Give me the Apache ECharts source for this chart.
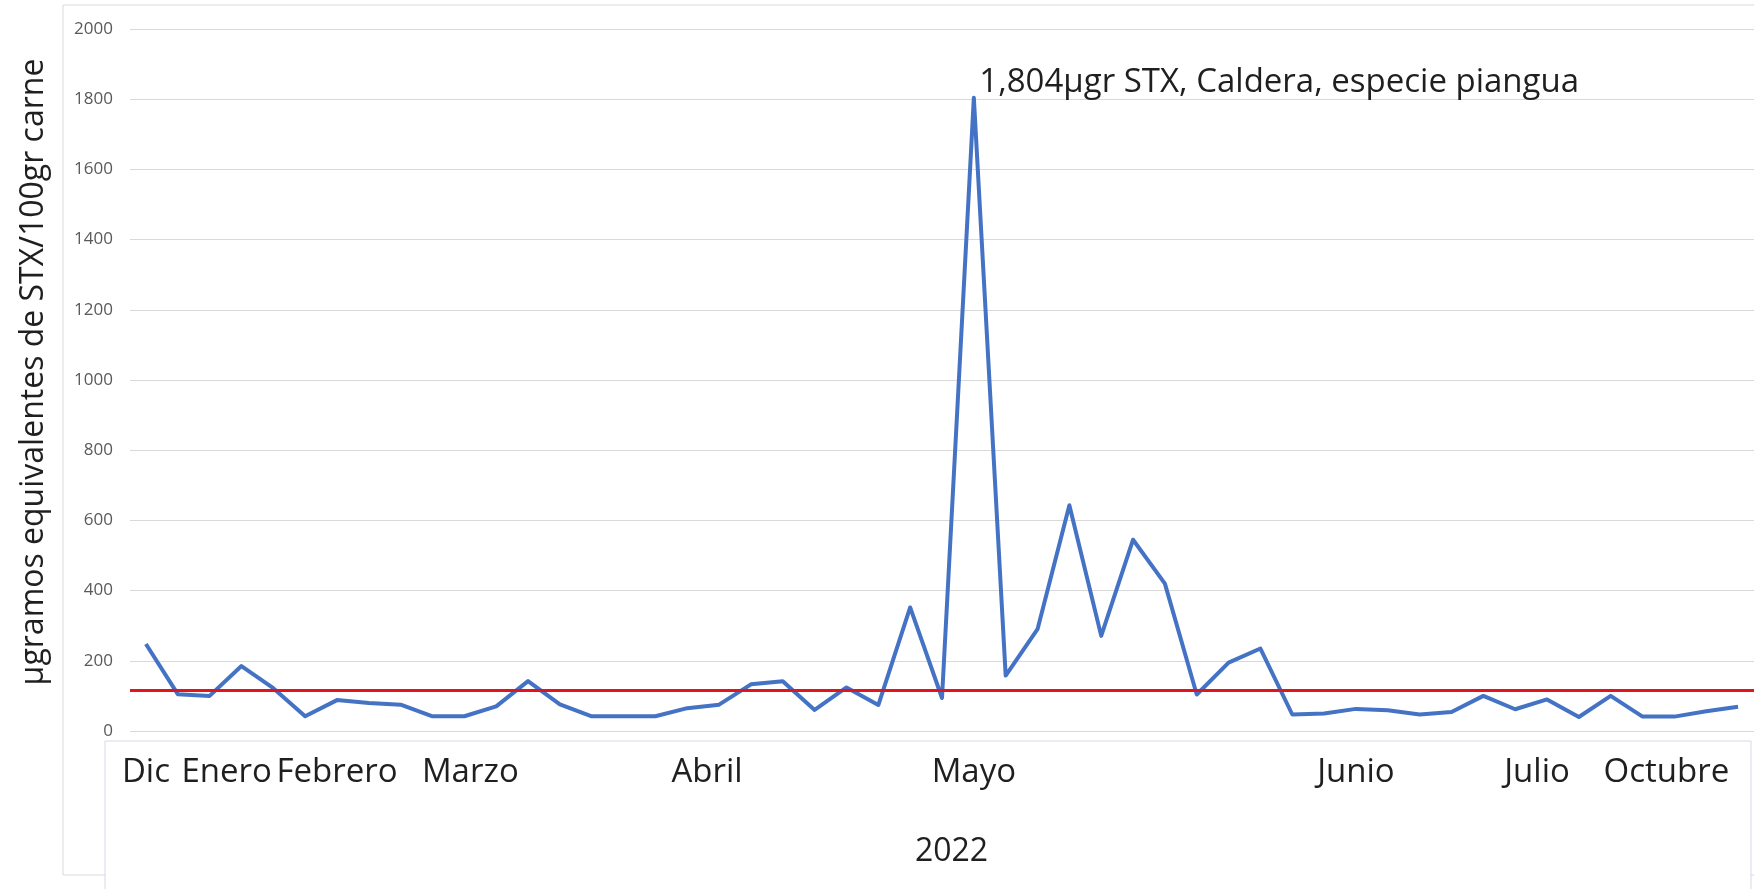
<!DOCTYPE html>
<html>
<head>
<meta charset="utf-8">
<script src="https://cdn.jsdelivr.net/npm/echarts@6/dist/echarts.min.js"></script>
<style>
  html, body { margin: 0; padding: 0; background: #ffffff; }
  #chart { width: 1754px; height: 889px; }
</style>
</head>
<body>
<div id="chart"></div>
<script>
// ---- data ----
const categories = ['Dic', '', 'Enero', '', '', '', 'Febrero', '', '', '', 'Marzo',
  '', '', '', '', '', '', '', 'Abril', '', '', '', '', '', '', '', 'Mayo',
  '', '', '', '', '', '', '', '', '', '', '', 'Junio', '', '', '', '', '', 'Julio',
  '', '', '', 'Octubre', '', ''];
const stxValues = [248, 105, 100, 185, 122, 42, 88, 80, 75, 42, 42, 70, 142, 76, 42, 42, 42,
  65, 75, 133, 142, 60, 124, 74, 352, 94, 1804, 158, 290, 643, 271, 545, 420, 104, 195, 235,
  47, 50, 63, 59, 47, 54, 100, 62, 90, 40, 100, 41, 41, 56, 69];
const thresholdValue = 115;
const yTicks = [0, 200, 400, 600, 800, 1000, 1200, 1400, 1600, 1800, 2000];
const yearLabel = '2022';
const yAxisTitle = 'µgramos equivalentes de STX/100gr carne';
const peakNote = '1,804µgr STX, Caldera, especie piangua';

// ---- layout tweaks (label centring as in the reference text box) ----
const labelShift = { 2: 17, 10: 6, 18: -12, 44: -10, 48: -8 };
const FONT = "'Open Sans', sans-serif";

const xData = categories.map((c, i) => {
  const s = labelShift[i];
  if (!s) return c;
  return { value: c, textStyle: { padding: s > 0 ? [0, 0, 0, 2 * s] : [0, -2 * s, 0, 0] } };
});

const chart = echarts.init(document.getElementById('chart'), null, { renderer: 'canvas' });
chart.setOption({
  backgroundColor: '#ffffff',
  animation: false,
  textStyle: { fontFamily: FONT },
  graphic: [
    { type: 'rect', z: -20, silent: true,
      shape: { x: 63, y: 5, width: 1750, height: 870 },
      style: { fill: 'none', stroke: '#d9d9d9', lineWidth: 1 } },
    { type: 'rect', z: -10, silent: true,
      shape: { x: 105, y: 741, width: 1646, height: 220 },
      style: { fill: '#ffffff', stroke: '#d3d9e2', lineWidth: 1 } }
  ],
  grid: { left: 130, right: -3, top: 29, bottom: 158, containLabel: false },
  xAxis: {
    type: 'category',
    data: xData,
    boundaryGap: true,
    axisLine: { show: false },
    axisTick: { show: false },
    axisLabel: { interval: 0, margin: 25, fontSize: 33, color: '#1f1f1f', fontFamily: FONT },
    name: yearLabel,
    nameLocation: 'middle',
    nameGap: 105,
    nameTextStyle: { fontSize: 32, color: '#1f1f1f', fontFamily: FONT, padding: [0, 0, 0, 19] }
  },
  yAxis: {
    type: 'value',
    min: yTicks[0],
    max: yTicks[yTicks.length - 1],
    interval: yTicks[1] - yTicks[0],
    axisLine: { show: false },
    axisTick: { show: false },
    axisLabel: { margin: 17, fontSize: 17, color: '#595959', fontFamily: FONT,
      formatter: (v) => String(v) },
    splitLine: { lineStyle: { color: '#d9d9d9', width: 1 } },
    name: yAxisTitle,
    nameLocation: 'middle',
    nameRotate: 90,
    nameGap: 80,
    nameTextStyle: { fontSize: 32, color: '#1f1f1f', fontFamily: FONT, padding: [0, 0, 0, 16] }
  },
  series: [{
    type: 'line',
    data: stxValues,
    symbol: 'none',
    lineStyle: { color: '#4472C4', width: 4, join: 'round' },
    z: 3,
    markLine: {
      silent: true,
      symbol: 'none',
      label: { show: false },
      lineStyle: { color: '#e3141b', width: 3, type: 'solid' },
      data: [{ yAxis: thresholdValue }]
    },
    markPoint: {
      silent: true,
      symbol: 'circle',
      symbolSize: 1,
      itemStyle: { color: 'rgba(0,0,0,0)' },
      label: {
        show: true, position: 'right', distance: 5, offset: [0, -15],
        formatter: peakNote, fontSize: 33, color: '#1f1f1f', fontFamily: FONT
      },
      data: [{ type: 'max' }]
    }
  }]
});
</script>
</body>
</html>
